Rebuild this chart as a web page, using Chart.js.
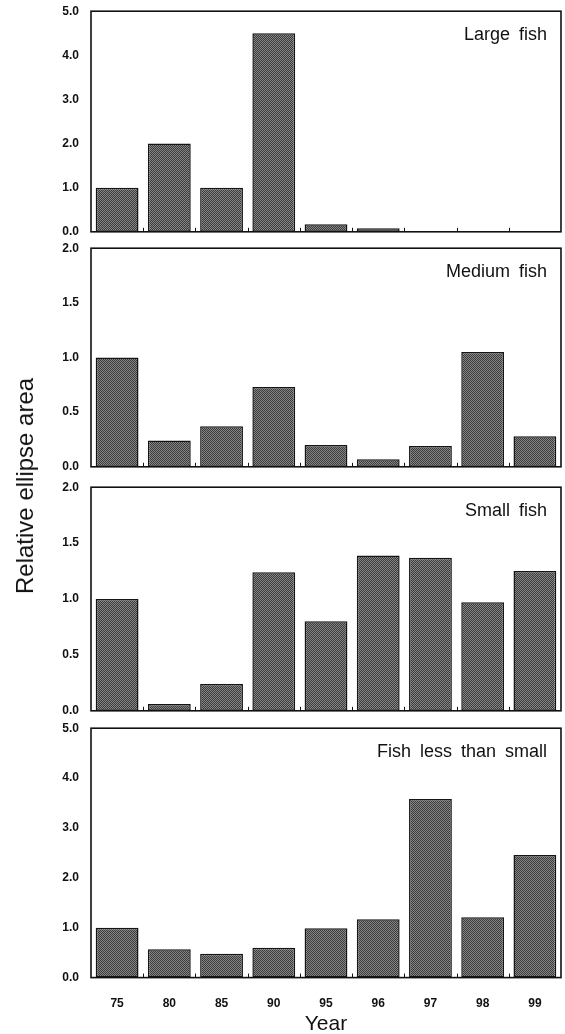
<!DOCTYPE html>
<html>
<head>
<meta charset="utf-8">
<title>Relative ellipse area by year</title>
<script src="https://cdn.jsdelivr.net/npm/chart.js@4.4.1/dist/chart.umd.min.js"></script>
<style>
  html, body { margin: 0; padding: 0; background: #fff; }
  #wrap { position: relative; width: 565px; height: 1034px; overflow: hidden; }
  #wrap canvas { position: absolute; left: 0; }
  #ytitle {
    position: absolute; left: 25px; top: 486px;
    transform: translate(-50%, -50%) rotate(-90deg);
    font: 24px "Liberation Sans", Arial, sans-serif; color: #111;
    white-space: nowrap;
  }
</style>
</head>
<body>
<div id="wrap">
  <canvas id="c1" width="565" height="240"></canvas>
  <canvas id="c2" width="565" height="240"></canvas>
  <canvas id="c3" width="565" height="240"></canvas>
  <canvas id="c4" width="565" height="320"></canvas>
  <div id="ytitle">Relative ellipse area</div>
</div>
<script>
// Years on the x axis
const years = ['75', '80', '85', '90', '95', '96', '97', '98', '99'];

// Relative ellipse area per size class
const largeFish = [1.0, 2.0, 1.0, 4.5, 0.17, 0.08, null, null, null];
const mediumFish = [1.0, 0.24, 0.37, 0.73, 0.2, 0.07, 0.19, 1.05, 0.28];
const smallFish = [1.0, 0.06, 0.24, 1.24, 0.8, 1.39, 1.37, 0.97, 1.25];
const lessThanSmall = [1.0, 0.57, 0.48, 0.6, 0.99, 1.17, 3.58, 1.21, 2.46];

const panelNames = ['Large fish', 'Medium fish', 'Small fish', 'Fish less than small'];
const panelMax = [5, 2, 2, 5];
const panelStep = [1, 0.5, 0.5, 1];

// where each plot box sits on the page (top, bottom)
const panelBox = [[11, 232], [248, 467], [487, 711], [728, 977]];

const FONT = '"Liberation Sans", Arial, sans-serif';

// halftone-ish fill for the bars
function barFill() {
    const p = document.createElement('canvas');
    p.width = 2; p.height = 2;
    const g = p.getContext('2d');
    g.fillStyle = '#3c3c3c'; g.fillRect(0, 0, 2, 2);
    g.fillStyle = '#858585'; g.fillRect(0, 0, 1, 1); g.fillRect(1, 1, 1, 1);
    return g.createPattern(p, 'repeat');
}

// box around the plot, little inward ticks between years, panel name top right
const panelFrame = {
    id: 'panelFrame',
    afterDatasetsDraw(chart, args, opts) {
        const a = chart.chartArea;
        const ctx = chart.ctx;
        const xs = chart.scales.x;
        ctx.save();
        ctx.strokeStyle = '#111';
        ctx.lineWidth = 1.6;
        ctx.strokeRect(a.left, a.top, a.right - a.left, a.bottom - a.top);

        ctx.lineWidth = 1;
        ctx.beginPath();
        for (let i = 0; i < years.length - 1; i++) {
            const bx = Math.round((xs.getPixelForValue(i) + xs.getPixelForValue(i + 1)) / 2) + 0.5;
            ctx.moveTo(bx, a.bottom);
            ctx.lineTo(bx, a.bottom - 4);
        }
        ctx.stroke();

        ctx.fillStyle = '#111';
        ctx.font = '18px ' + FONT;
        ctx.wordSpacing = '4px';
        ctx.textAlign = 'right';
        ctx.textBaseline = 'middle';
        ctx.fillText(opts.name, a.right - 14, a.top + 24);
        ctx.restore();
    }
};

function makeConfig(values, idx, isBottom) {
    return {
        type: 'bar',
        data: {
            labels: years,
            datasets: [{
                data: values,
                backgroundColor: barFill(),
                borderColor: '#151515',
                borderWidth: 1.5,
                borderSkipped: false,
                barPercentage: 0.82,
                categoryPercentage: 1.0
            }]
        },
        options: {
            responsive: false,
            maintainAspectRatio: false,
            animation: false,
            devicePixelRatio: 1,
            layout: { padding: { top: 0, bottom: 0, left: 0, right: 4 } },
            plugins: {
                legend: { display: false },
                tooltip: { enabled: false },
                panelFrame: { name: panelNames[idx] }
            },
            scales: {
                x: {
                    display: isBottom,
                    grid: { display: false, drawTicks: false },
                    border: { display: false },
                    ticks: {
                        padding: 19,
                        color: '#111',
                        font: { family: FONT, size: 12, weight: 'bold' }
                    },
                    title: {
                        display: true,
                        text: 'Year',
                        color: '#111',
                        // tick padding is counted on both sides of the labels, pull the title back up
                        padding: { top: -16, bottom: 0 },
                        font: { family: FONT, size: 21, lineHeight: 1 }
                    }
                },
                y: {
                    min: 0,
                    max: panelMax[idx],
                    grid: { display: false, drawTicks: false },
                    border: { display: false },
                    afterFit(scale) { scale.width = 91; },
                    ticks: {
                        stepSize: panelStep[idx],
                        padding: 12,
                        color: '#111',
                        font: { family: FONT, size: 12, weight: 'bold' },
                        callback: v => Number(v).toFixed(1)
                    }
                }
            }
        },
        plugins: [panelFrame]
    };
}

// draw once to learn the axis margins, then size/place the canvas so the plot box lands on panelBox
function drawPanel(canvasId, values, idx, isBottom) {
    const canvas = document.getElementById(canvasId);
    let chart = new Chart(canvas, makeConfig(values, idx, isBottom));
    const a = chart.chartArea;
    const above = a.top;
    const below = chart.height - a.bottom;
    chart.destroy();

    const [top, bottom] = panelBox[idx];
    canvas.width = 565;
    canvas.height = Math.round(bottom - top + above + below);
    canvas.style.width = '565px';
    canvas.style.height = canvas.height + 'px';
    canvas.style.top = Math.round(top - above) + 'px';
    return new Chart(canvas, makeConfig(values, idx, isBottom));
}

drawPanel('c1', largeFish, 0, false);
drawPanel('c2', mediumFish, 1, false);
drawPanel('c3', smallFish, 2, false);
drawPanel('c4', lessThanSmall, 3, true);
</script>
</body>
</html>
